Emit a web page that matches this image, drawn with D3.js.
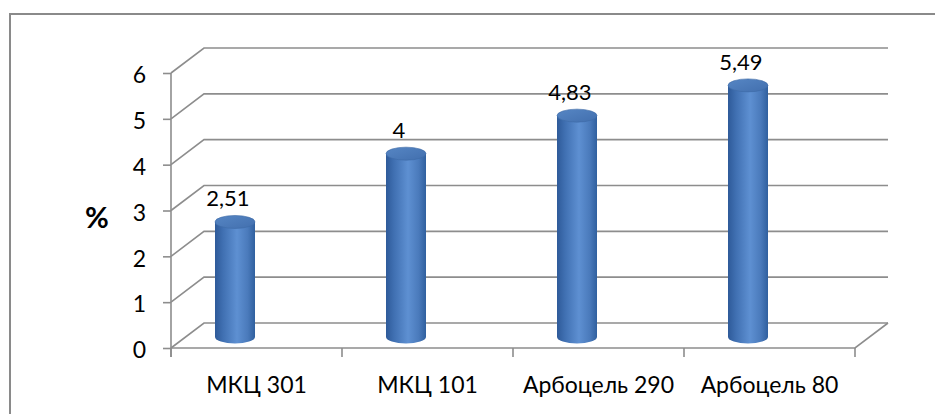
<!DOCTYPE html>
<html>
<head>
<meta charset="utf-8">
<script src="https://cdn.jsdelivr.net/npm/d3@7"></script>
<style>
  html, body { margin: 0; padding: 0; background: #fff; overflow: hidden; }
  svg { display: block; }
  text { font-family: Lato, "Open Sans", sans-serif; fill: #000; }
</style>
</head>
<body>
<svg id="chart" width="935" height="414"></svg>
<script>
// Chart data
const categories = ["МКЦ 301", "МКЦ 101", "Арбоцель 290", "Арбоцель 80"];
const values = [2.51, 4, 4.83, 5.49];
const valueLabels = ["2,51", "4", "4,83", "5,49"];
const yTicks = [0, 1, 2, 3, 4, 5, 6];
const yAxisTitle = "%";

const svg = d3.select("#chart");
const W = 935, H = 414;

// Front plane of the 3D box
const x0 = 171, x1 = 855;
const yBottom = 348, yTop = 73;
// Depth offset of the back wall
const depthX = 33, depthY = -25;
const barDepth = 0.44;     // bars sit near mid-depth
const barShift = -21.5;    // horizontal placement of a cylinder in its category
const rx = 20, ry = 6.5;

const x = d3.scaleBand().domain(categories).range([x0, x1]).padding(0);
const y = d3.scaleLinear().domain([0, 6]).range([yBottom, yTop]);

const gridColor = "#8d8d8d";

// Outer chart frame
svg.append("rect")
  .attr("x", 10).attr("y", 14)
  .attr("width", W).attr("height", H)
  .attr("fill", "none").attr("stroke", "#8a8a8a").attr("stroke-width", 2);

// Back wall gridlines with their side-wall segments
const grid = svg.append("g").attr("fill", "none").attr("stroke", gridColor).attr("stroke-width", 1.6);
yTicks.forEach(v => {
  const yy = y(v);
  grid.append("path").attr("d",
    `M${x0},${yy} L${x0 + depthX},${yy + depthY} L${x1 + depthX},${yy + depthY}`);
});
// Floor front edge and right edge
grid.append("path").attr("d",
  `M${x0},${y(0)} L${x1},${y(0)} L${x1 + depthX},${y(0) + depthY}`);

// Vertical value axis with tick marks
const yAxis = d3.axisLeft(y).tickValues(yTicks).tickSize(8).tickSizeOuter(0).tickFormat(d => d);
const yAxisG = svg.append("g").attr("transform", `translate(${x0},0)`).call(yAxis);
yAxisG.select(".domain").remove();
yAxisG.selectAll(".tick line").attr("stroke", gridColor).attr("stroke-width", 1.6);
yAxisG.selectAll(".tick text")
  .attr("x", -25).attr("dy", "0.42em")
  .style("font-size", "23px").style("font-family", "Lato, sans-serif");
svg.append("line")
  .attr("x1", x0).attr("x2", x0)
  .attr("y1", y(6)).attr("y2", y(0) + 9)
  .attr("stroke", gridColor).attr("stroke-width", 1.6);

// Category axis: ticks at category boundaries, labels centred
const bounds = categories.map(c => x(c)).concat([x1]);
svg.append("g").selectAll("line").data(bounds).join("line")
  .attr("x1", d => d).attr("x2", d => d)
  .attr("y1", y(0)).attr("y2", y(0) + 9)
  .attr("stroke", gridColor).attr("stroke-width", 1.6);
svg.append("g").selectAll("text").data(categories).join("text")
  .attr("x", d => x(d) + x.bandwidth() / 2)
  .attr("y", 393)
  .attr("text-anchor", "middle")
  .style("font-size", "23px")
  .text(d => d);

// Axis title
svg.append("text")
  .attr("x", 97).attr("y", 228)
  .attr("text-anchor", "middle")
  .style("font-size", "29px").style("font-weight", "bold")
  .text(yAxisTitle);

// Cylinder gradients
const defs = svg.append("defs");
const side = defs.append("linearGradient").attr("id", "cylSide")
  .attr("x1", "0%").attr("x2", "100%").attr("y1", "0%").attr("y2", "0%");
[["0%", "#2e5a99"], ["20%", "#4070b2"], ["55%", "#5e90d2"], ["82%", "#4a7abb"], ["100%", "#30609f"]]
  .forEach(([o, c]) => side.append("stop").attr("offset", o).attr("stop-color", c));
const cap = defs.append("linearGradient").attr("id", "cylTop")
  .attr("x1", "0%").attr("x2", "100%").attr("y1", "0%").attr("y2", "100%");
[["0%", "#5686c4"], ["100%", "#426fae"]]
  .forEach(([o, c]) => cap.append("stop").attr("offset", o).attr("stop-color", c));

// Cylinders
const bars = svg.append("g").selectAll("g").data(values).join("g");
const cxOf = (d, i) => x(categories[i]) + x.bandwidth() / 2 + barShift;
const shiftY = depthY * barDepth;
bars.append("path")
  .attr("d", (d, i) => {
    const cx = cxOf(d, i);
    const top = y(d) + shiftY, base = y(0) + shiftY;
    return `M${cx - rx},${top} L${cx - rx},${base} A${rx},${ry} 0 0 0 ${cx + rx},${base} L${cx + rx},${top} Z`;
  })
  .attr("fill", "url(#cylSide)");
bars.append("ellipse")
  .attr("cx", (d, i) => cxOf(d, i))
  .attr("cy", d => y(d) + shiftY)
  .attr("rx", rx).attr("ry", ry)
  .attr("fill", "url(#cylTop)")
  .attr("stroke", "#3d69a6").attr("stroke-width", 0.6);

// Value labels above each cylinder
svg.append("g").selectAll("text").data(values).join("text")
  .attr("x", (d, i) => cxOf(d, i) - 7)
  .attr("y", d => y(d) + shiftY - ry - 9)
  .attr("text-anchor", "middle")
  .style("font-size", "22px")
  .text((d, i) => valueLabels[i]);
</script>
</body>
</html>
